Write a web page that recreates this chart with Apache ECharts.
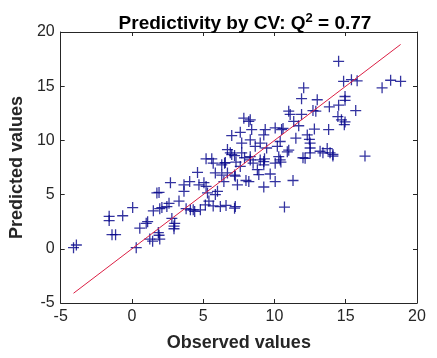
<!DOCTYPE html>
<html>
<head>
<meta charset="utf-8">
<script src="https://cdn.jsdelivr.net/npm/echarts@6/dist/echarts.min.js"></script>
<style>
  html, body { margin: 0; padding: 0; background: #fff; }
  #chart { width: 437px; height: 358px; }
</style>
</head>
<body>
<div id="chart"></div>
<script>
// observed vs predicted values
var observed = [
  -4.1, -3.9, -1.6, -1.6, -1.4, -1.15, -0.65, 0.05, 0.3, 0.55,
  1.0, 1.1, 1.25, 1.45, 1.85, 1.95, 1.9, 1.75, 1.9, 1.5,
  1.95, 2.1, 2.45, 2.7, 2.6, 2.8, 2.95, 3.0, 2.95, 3.3,
  3.65, 3.65, 4.05, 3.8, 4.1, 4.4, 4.6, 4.8, 5.15, 5.05,
  5.3, 5.2, 4.7, 4.3, 5.2, 5.6, 5.7, 5.85, 5.85, 6.0,
  6.2, 6.3, 6.5, 6.9, 7.2, 7.25, 7.2, 6.3, 6.7, 7.2,
  5.4, 5.7, 6.6, 6.45, 7.4, 7.25, 8.0, 8.2, 8.8, 8.9,
  9.25, 9.7, 10.05, 11.3, 10.7, 6.55, 7.3, 7.6, 8.3, 9.0,
  9.3, 9.25, 8.5, 10.4, 10.45, 10.3, 10.9, 11.0, 12.0, 12.5,
  13.4, 14.1, 16.35, 6.7, 7.0, 7.7, 7.9, 8.3, 9.25, 10.05,
  9.0, 10.4, 8.65, 9.45, 10.2, 7.7, 8.3, 7.0, 7.6, 8.4,
  9.25, 9.35, 10.05, 10.5, 10.6, 11.5, 12.3, 12.45, 12.5, 12.5,
  13.7, 13.9, 14.1, 13.2, 12.15, 7.85, 8.2, 8.3, 11.0, 11.1,
  11.9, 11.35, 11.7, 12.8, 13.8, 12.7, 12.9, 13.85, 14.5, 15.7,
  14.45, 14.95, 14.9, 14.7, 11.9, 12.05, 13.0, 14.95, 14.95, 14.5,
  14.85, 15.4, 15.8, 17.55, 18.15, 18.85
];
var predicted = [
  0.1, 0.35, 3.0, 2.6, 1.3, 1.3, 3.05, 3.8, 0.1, 1.9,
  2.35, 2.5, 0.9, 0.7, 1.5, 0.9, 1.25, 5.15, 5.2, 3.5,
  3.7, 3.8, 3.9, 6.1, 4.2, 2.8, 2.1, 2.35, 1.85, 4.4,
  5.9, 5.3, 6.2, 3.7, 3.6, 3.45, 7.05, 3.6, 4.05, 6.1,
  5.15, 5.75, 5.9, 3.6, 8.3, 8.3, 7.9, 7.0, 5.0, 5.3,
  3.9, 7.75, 7.9, 8.85, 8.6, 3.9, 3.75, 6.8, 7.0, 6.8,
  4.4, 3.95, 4.0, 6.2, 5.9, 6.7, 6.3, 6.2, 7.3, 6.85,
  5.7, 6.9, 6.2, 6.3, 3.85, 7.95, 8.0, 7.6, 8.5, 8.2,
  8.3, 7.75, 7.9, 8.2, 8.0, 8.5, 8.95, 9.1, 8.4, 8.85,
  8.85, 8.7, 8.55, 9.15, 8.7, 8.85, 8.4, 8.2, 8.05, 7.9,
  9.75, 9.9, 9.45, 9.3, 9.45, 9.75, 10.05, 10.45, 10.75, 11.0,
  10.5, 11.0, 11.15, 11.0, 11.1, 10.2, 10.5, 10.1, 9.3, 9.75,
  9.25, 8.85, 8.55, 9.0, 8.35, 12.05, 11.75, 11.9, 12.7, 12.4,
  12.4, 11.75, 11.35, 11.05, 11.0, 12.75, 12.7, 13.1, 13.25, 12.75,
  12.2, 11.7, 11.45, 11.9, 13.85, 14.85, 13.75, 14.05, 13.7, 17.3,
  15.45, 15.6, 15.5, 14.85, 15.55, 15.45
];
var axisTicks = [-5, 0, 5, 10, 15, 20];

var points = observed.map(function (x, i) {
  return [x, predicted[i]];
});
var lineMin = Math.min.apply(null, observed);
var lineMax = Math.max.apply(null, observed);

var chart = echarts.init(document.getElementById("chart"));

var tickStyle = {
  fontFamily: "Liberation Sans",
  fontSize: 16,
  color: "#262626"
};

var nameStyle = {
  fontFamily: "Liberation Sans",
  fontSize: 18,
  fontWeight: "bold",
  color: "#262626"
};

function axisBase(extra) {
  var base = {
    type: "value",
    min: axisTicks[0],
    max: axisTicks[axisTicks.length - 1],
    interval: 5,
    splitLine: { show: false },
    axisLine: { show: true, onZero: false, lineStyle: { color: "#262626", width: 1 } },
    axisTick: { show: true, inside: true, length: 4, lineStyle: { color: "#262626" } },
    axisLabel: Object.assign({ show: true }, tickStyle)
  };
  return Object.assign(base, extra);
}

var option = {
  animation: false,
  backgroundColor: "#ffffff",
  title: {
    text: "Predictivity by CV: Q{sup|2} = 0.77",
    left: 240,
    textAlign: "center",
    top: 7,
    textStyle: {
      fontFamily: "Liberation Sans",
      fontSize: 19,
      fontWeight: "bold",
      color: "#000",
      rich: {
        sup: {
          fontFamily: "Liberation Sans",
          fontSize: 13,
          fontWeight: "bold",
          color: "#000",
          verticalAlign: "bottom",
          padding: [0, 0, 11, 0]
        }
      }
    }
  },
  grid: {
    left: 60,
    right: 20,
    top: 32,
    bottom: 55
  },
  xAxis: [
    axisBase({
      position: "bottom",
      name: "Observed values",
      nameLocation: "middle",
      nameGap: 31,
      nameTextStyle: nameStyle,
      axisLabel: Object.assign({ margin: 6 }, tickStyle)
    }),
    axisBase({
      position: "top",
      axisLabel: { show: false }
    })
  ],
  yAxis: [
    axisBase({
      position: "left",
      name: "Predicted values",
      nameLocation: "middle",
      nameGap: 33,
      nameTextStyle: nameStyle,
      axisLabel: Object.assign({ margin: 6 }, tickStyle)
    }),
    axisBase({
      position: "right",
      axisLabel: { show: false }
    })
  ],
  series: [
    {
      type: "scatter",
      xAxisIndex: 0,
      yAxisIndex: 0,
      data: points,
      symbol: "path://M5.3,0h1.4v12h-1.4zM0,5.3h12v1.4h-12z",
      symbolSize: 11,
      itemStyle: { color: "#000088" },
      z: 2
    },
    {
      type: "line",
      xAxisIndex: 0,
      yAxisIndex: 0,
      data: [[lineMin, lineMin], [lineMax, lineMax]],
      symbol: "none",
      lineStyle: { color: "#dc1f44", width: 1 },
      z: 3
    }
  ]
};

chart.setOption(option);
</script>
</body>
</html>
